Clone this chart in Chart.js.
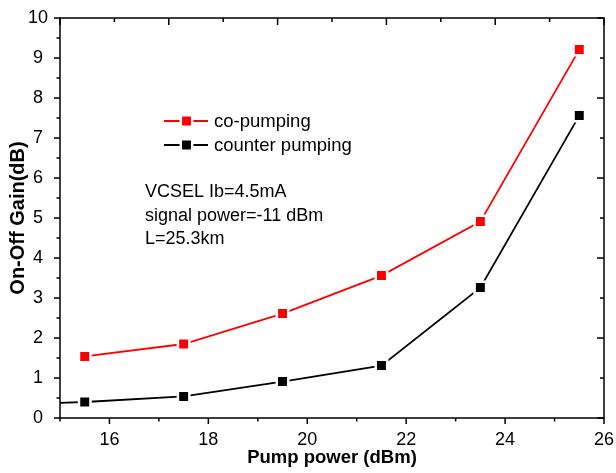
<!DOCTYPE html>
<html>
<head>
<meta charset="utf-8">
<script src="https://cdn.jsdelivr.net/npm/chart.js@4/dist/chart.umd.min.js"></script>
<style>
  html, body { margin: 0; padding: 0; background: #fff; }
  #wrap { width: 616px; height: 473px; position: relative; }
</style>
</head>
<body>
<div id="wrap"><canvas id="c" width="616" height="473"></canvas></div>
<script>
// ---- data ----
const pumpPower      = [15.5, 17.5, 19.5, 21.5, 23.5, 25.5];
const coPumping      = [1.54, 1.85, 2.61, 3.56, 4.91, 9.21];
const counterX       = [15.0, 15.5, 17.5, 19.5, 21.5, 23.5, 25.5];
const counterPumping = [0.38, 0.40, 0.54, 0.91, 1.31, 3.26, 7.56];
const xTickLabels    = [16, 18, 20, 22, 24, 26];
const yTickLabels    = [0, 1, 2, 3, 4, 5, 6, 7, 8, 9, 10];
const seriesNames    = ['co-pumping', 'counter pumping'];
const noteLines      = ['VCSEL Ib=4.5mA', 'signal power=-11 dBm', 'L=25.3km'];

const FONT = '"Liberation Sans", Arial, sans-serif';

const coData = pumpPower.map((x, i) => ({ x, y: coPumping[i] }));
const ctData = counterX.map((x, i) => ({ x, y: counterPumping[i] }));

function drawMarker(ctx, x, y, color) {
  ctx.save();
  ctx.fillStyle = color;
  ctx.strokeStyle = '#fff';
  ctx.lineWidth = 2.5;
  ctx.beginPath();
  ctx.rect(x - 5.7, y - 5.7, 11.4, 11.4);
  ctx.fill();
  ctx.stroke();
  ctx.restore();
}

const decor = {
  id: 'decor',
  afterDraw(chart) {
    const ctx = chart.ctx;
    const a = chart.chartArea;
    const xs = chart.scales.x, ys = chart.scales.y, x2 = chart.scales.x2, y2 = chart.scales.y2;
    ctx.save();
    ctx.strokeStyle = '#000';
    ctx.lineWidth = 1.5;
    ctx.lineCap = 'butt';
    ctx.strokeRect(a.left, a.top, a.right - a.left, a.bottom - a.top);
    ctx.beginPath();
    for (let v = xs.min; v <= xs.max + 1e-9; v += 1) {
      const px = xs.getPixelForValue(v);
      const len = (Math.round(v) % 2 === 0) ? 6 : 3.5;
      ctx.moveTo(px, a.bottom); ctx.lineTo(px, a.bottom + len);
    }
    for (let v = ys.min; v <= ys.max + 1e-9; v += 0.5) {
      const py = ys.getPixelForValue(v);
      const len = (Math.abs(v - Math.round(v)) < 1e-6) ? 6 : 3.5;
      ctx.moveTo(a.left, py); ctx.lineTo(a.left - len, py);
    }
    for (let v = x2.min; v <= x2.max + 1e-9; v += 1) {
      const px = x2.getPixelForValue(v);
      const len = (v % 2 === 0) ? 7 : 4;
      ctx.moveTo(px, a.top); ctx.lineTo(px, a.top + len);
    }
    for (let v = y2.min; v <= y2.max + 1e-9; v += 1) {
      const py = y2.getPixelForValue(v);
      const len = (v % 2 === 0) ? 7 : 4;
      ctx.moveTo(a.right, py); ctx.lineTo(a.right - len, py);
    }
    ctx.stroke();

    const legendRows = [121, 145];
    chart.data.datasets.forEach((ds, i) => {
      const cy = legendRows[i];
      ctx.strokeStyle = ds.borderColor;
      ctx.lineWidth = 1.8;
      ctx.beginPath();
      ctx.moveTo(164, cy); ctx.lineTo(208, cy);
      ctx.stroke();
      drawMarker(ctx, 186.5, cy, ds.backgroundColor);
      ctx.fillStyle = '#000';
      ctx.font = '18.5px ' + FONT;
      ctx.textBaseline = 'alphabetic';
      ctx.textAlign = 'left';
      ctx.fillText(ds.label, 214, cy + 5.5);
    });

    ctx.fillStyle = '#000';
    ctx.font = '18px ' + FONT;
    ctx.textAlign = 'left';
    ctx.textBaseline = 'alphabetic';
    noteLines.forEach((t, i) => ctx.fillText(t, 145, 197 + i * 23.5));
    ctx.restore();
  }
};

const chart = new Chart(document.getElementById('c'), {
  type: 'line',
  data: {
    datasets: [
      {
        label: seriesNames[0],
        data: coData,
        borderColor: '#ff0000',
        backgroundColor: '#ff0000',
        borderWidth: 1.8,
        pointStyle: 'rect',
        pointRadius: 8.1,
        pointBorderColor: '#ffffff',
        pointBorderWidth: 2.5,
        pointHoverRadius: 8.1,
        tension: 0
      },
      {
        label: seriesNames[1],
        data: ctData,
        borderColor: '#000000',
        backgroundColor: '#000000',
        borderWidth: 1.8,
        pointStyle: 'rect',
        pointRadius: (c) => c.dataIndex === 0 ? 0 : 8.1,
        pointBorderColor: '#ffffff',
        pointBorderWidth: 2.5,
        pointHoverRadius: 8.1,
        tension: 0
      }
    ]
  },
  options: {
    responsive: false,
    animation: false,
    events: [],
    layout: { padding: { top: 18, right: 12, left: 0, bottom: 0 } },
    plugins: { legend: { display: false }, tooltip: { enabled: false }, title: { display: false } },
    scales: {
      x: {
        type: 'linear',
        position: 'bottom',
        min: 15, max: 26,
        afterBuildTicks: (s) => { s.ticks = xTickLabels.map(v => ({ value: v })); },
        afterFit: (s) => { s.height = 55; },
        grid: { display: false, drawTicks: true, tickLength: 11 },
        border: { display: false },
        ticks: { color: '#000', font: { family: FONT, size: 18 }, padding: 0, maxRotation: 0, autoSkip: false },
        title: { display: true, text: 'Pump power (dBm)', color: '#000', font: { family: FONT, size: 18.5, weight: 'bold' }, padding: { top: 4, bottom: 4 } }
      },
      y: {
        type: 'linear',
        position: 'left',
        min: 0, max: 10,
        afterBuildTicks: (s) => { s.ticks = yTickLabels.map(v => ({ value: v })); },
        afterFit: (s) => { s.width = 60; },
        grid: { display: false, drawTicks: true, tickLength: 12 },
        border: { display: false },
        ticks: { color: '#000', font: { family: FONT, size: 18 }, padding: 0, crossAlign: 'center', autoSkip: false },
        title: { display: true, text: 'On-Off Gain(dB)', color: '#000', font: { family: FONT, size: 20, weight: 'bold' }, padding: { top: 6.5, bottom: 6.5 } }
      },
      x2: { type: 'linear', position: 'top', min: 0, max: 10, display: false },
      y2: { type: 'linear', position: 'right', min: 0, max: 10, display: false }
    }
  },
  plugins: [decor]
});
</script>
</body>
</html>
